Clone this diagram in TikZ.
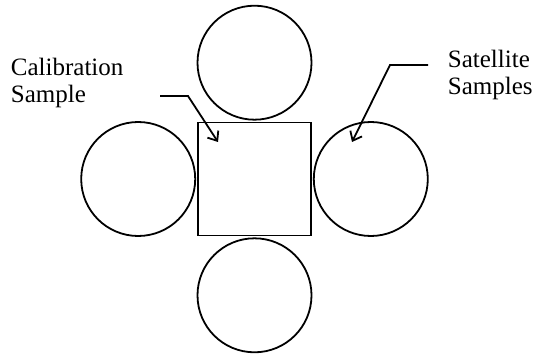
\documentclass[tikz,border=0pt]{standalone}
\usepackage{fontspec}
\setmainfont{Liberation Serif}
\usetikzlibrary{positioning,arrows.meta}
\begin{document}
\begin{tikzpicture}[x=1pt,y=-1pt,line width=1.8pt,>={Straight Barb[length=8pt,width=13pt]},
  font=\fontsize{25}{27.6}\selectfont,node distance=1pt,
  sample/.style={draw,circle,minimum size=114pt,inner sep=0pt},
  label/.style={align=left,anchor=base west,inner sep=0pt}]
  \useasboundingbox (0,0) rectangle (537,355);
  \node[draw,minimum size=113pt,inner sep=0pt] (calib) at (254.5,179) {};
  \node[sample,above=of calib] (sattop) {};
  \node[sample,below=of calib] (satbottom) {};
  \node[sample,left=of calib] (satleft) {};
  \node[sample,right=of calib] (satright) {};
  \node[label] (calibtext) at (10,103) {Calibration\\Sample};
  \node[label] (sattext) at (447,95) {Satellite\\Samples};
  % arrows from the labels
  \coordinate (calibstart) at (160,96);
  \coordinate (calibtip) at (218,142);
  \coordinate (satstart) at (428,65);
  \coordinate (sattip) at (352,142);
  \draw[->] (calibstart) -- ++(28,0) -- (calibtip);
  \draw[->] (satstart) -- ++(-38,0) -- (sattip);
\end{tikzpicture}
\end{document}
